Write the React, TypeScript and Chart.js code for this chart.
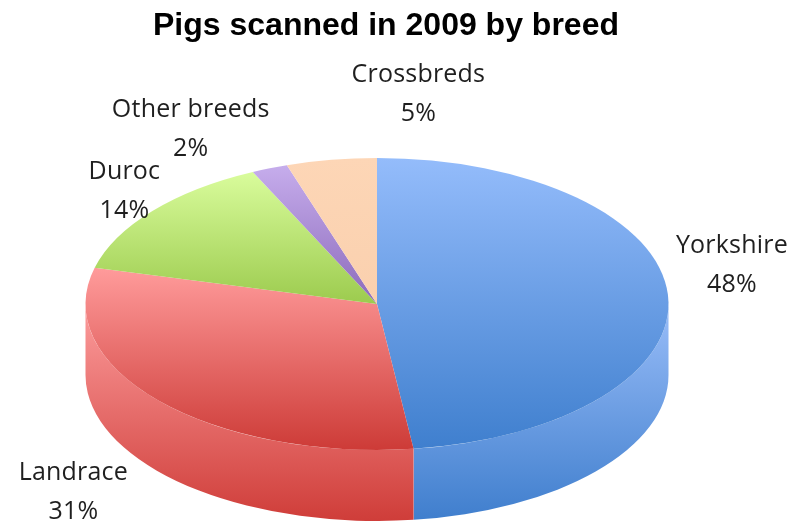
import React, { useEffect, useRef } from "react";
import { Chart, registerables } from "chart.js";

Chart.register(...registerables);

const chartTitle = "Pigs scanned in 2009 by breed";
const breeds = ["Yorkshire", "Landrace", "Duroc", "Other breeds", "Crossbreds"];
const shares = [48, 31, 14, 2, 5];

// Vertical shading of each slice: [top colour, bottom colour].
const faceShades = [
  ["#94bcfb", "#3f7fce"],
  ["#ff9b9b", "#cd3b37"],
  ["#d9fc9c", "#9ccb4e"],
  ["#c6adec", "#8c6abb"],
  ["#fdd6b6", "#fad0ae"],
];
const wallShades = [
  ["#96bbf7", "#3f7ecd"],
  ["#fb9999", "#cf3d39"],
  ["#d9fc9c", "#9ccb4e"],
  ["#c6adec", "#8c6abb"],
  ["#fdd6b6", "#fad0ae"],
];

// Label centre relative to the point on the rim at the slice's mid angle.
const labelOffsets = [
  [64, -29],
  [-85, 92],
  [-28, -20],
  [-79, -39],
  [87, -65],
];

const PIE_CENTER_X = 377;
const PIE_RADIUS_X = 291.5;
const PIE_DEPTH = 71;

// Squashes the round pie into an ellipse and builds the side wall beneath it.
const tiltPlugin = {
  id: "tilt",
  beforeDatasetsDraw(chart: any) {
    const { ctx } = chart;
    const arcs = chart.getDatasetMeta(0).data;
    arcs.forEach((arc: any, i: number) => {
      const a0 = Math.max(arc.startAngle, 0);
      const a1 = Math.min(arc.endAngle, Math.PI);
      if (a1 <= a0) return;
      const cy = arc.y;
      const ry = arc.outerRadius;
      const wall = ctx.createLinearGradient(0, cy + 8, 0, cy + ry + PIE_DEPTH);
      wall.addColorStop(0, wallShades[i][0]);
      wall.addColorStop(1, wallShades[i][1]);
      ctx.beginPath();
      ctx.ellipse(PIE_CENTER_X, cy + PIE_DEPTH, PIE_RADIUS_X, ry, 0, a0, a1);
      ctx.ellipse(PIE_CENTER_X, cy, PIE_RADIUS_X, ry, 0, a1, a0, true);
      ctx.closePath();
      ctx.fillStyle = wall;
      ctx.fill();
      // Faint highlight along the seam between neighbouring walls.
      if (arc.endAngle < Math.PI) {
        const x = PIE_CENTER_X + PIE_RADIUS_X * Math.cos(a1);
        const y = cy + ry * Math.sin(a1);
        ctx.beginPath();
        ctx.moveTo(x, y);
        ctx.lineTo(x, y + PIE_DEPTH);
        ctx.strokeStyle = "rgba(255,255,255,0.3)";
        ctx.lineWidth = 1;
        ctx.stroke();
      }
    });
    const first = arcs[0];
    ctx.save();
    ctx.translate(PIE_CENTER_X, 0);
    ctx.scale(PIE_RADIUS_X / first.outerRadius, 1);
    ctx.translate(-first.x, 0);
  },
  afterDatasetsDraw(chart: any) {
    chart.ctx.restore();
  },
  afterDraw(chart: any) {
    const { ctx } = chart;
    ctx.save();
    ctx.font = '25px "Open Sans"';
    ctx.letterSpacing = "0.2px";
    ctx.fillStyle = "#1f1f1f";
    ctx.textAlign = "center";
    ctx.textBaseline = "middle";
    chart.getDatasetMeta(0).data.forEach((arc: any, i: number) => {
      const mid = (arc.startAngle + arc.endAngle) / 2;
      const x = PIE_CENTER_X + PIE_RADIUS_X * Math.cos(mid) + labelOffsets[i][0];
      const y = arc.y + arc.outerRadius * Math.sin(mid) + labelOffsets[i][1];
      ctx.fillText(breeds[i], x, y - 19.5);
      ctx.fillText(`${shares[i]}%`, x, y + 19.5);
    });
    ctx.restore();
  },
};

// Gradient spanning the vertical extent of one slice of the face.
function faceGradient(context: any) {
  const { chart, dataIndex } = context;
  const area = chart.chartArea;
  if (!area) return faceShades[dataIndex][0];
  const total = shares.reduce((sum, v) => sum + v, 0);
  const before = shares.slice(0, dataIndex).reduce((sum, v) => sum + v, 0);
  const a0 = (before / total) * 2 * Math.PI - Math.PI / 2;
  const a1 = ((before + shares[dataIndex]) / total) * 2 * Math.PI - Math.PI / 2;
  const cy = (area.top + area.bottom) / 2;
  const r = (area.bottom - area.top) / 2;
  const ys = [cy, cy + r * Math.sin(a0), cy + r * Math.sin(a1)];
  if (a0 < Math.PI / 2 && a1 > Math.PI / 2) ys.push(cy + r);
  if (a0 <= -Math.PI / 2 || a1 >= (3 * Math.PI) / 2) ys.push(cy - r);
  const g = chart.ctx.createLinearGradient(0, Math.min(...ys), 0, Math.max(...ys));
  g.addColorStop(0, faceShades[dataIndex][0]);
  g.addColorStop(1, faceShades[dataIndex][1]);
  return g;
}

export default function App() {
  const canvasRef = useRef<HTMLCanvasElement>(null);

  useEffect(() => {
    const chart = new Chart(canvasRef.current as HTMLCanvasElement, {
      type: "pie",
      data: {
        labels: breeds,
        datasets: [
          {
            data: shares,
            backgroundColor: faceGradient,
            borderWidth: 0,
            clip: false,
          },
        ],
      },
      options: {
        responsive: false,
        animation: false,
        events: [],
        layout: { padding: { left: 0, right: 22, top: 0, bottom: 71 } },
        plugins: {
          legend: { display: false },
          tooltip: { enabled: false },
          title: {
            display: true,
            text: chartTitle,
            color: "#000000",
            font: { family: '"Liberation Sans"', size: 32, weight: "bold", lineHeight: 1.2 },
            padding: { top: 7, bottom: 112.6 },
          },
        },
      },
      plugins: [tiltPlugin],
    } as any);
    return () => chart.destroy();
  }, []);

  return (
    <div style={{ position: "fixed", left: 0, top: 0, width: 794, height: 521, background: "#ffffff" }}>
      <canvas ref={canvasRef} width={794} height={521} style={{ display: "block" }} />
    </div>
  );
}
